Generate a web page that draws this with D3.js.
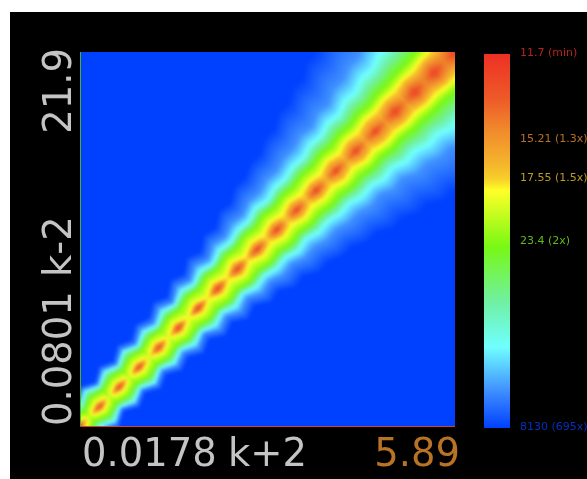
<!DOCTYPE html>
<html>
<head>
<meta charset="utf-8">
<script src="https://cdnjs.cloudflare.com/ajax/libs/d3/7.8.5/d3.min.js"></script>
<style>
  html, body { margin: 0; padding: 0; background: #fff; overflow: hidden; }
  #chart { position: relative; width: 587px; height: 479px; }
  #chart canvas, #chart svg { position: absolute; }
  text { font-family: "DejaVu Sans", sans-serif; }
</style>
</head>
<body>
<div id="chart"></div>
<script>
// k+2 at every peak and saddle along the ridge
var ridgeK = [0.0178, 0.0207, 0.0241, 0.0281, 0.0327, 0.0381, 0.0444, 0.0517, 0.0602, 0.0701,
  0.0816, 0.0951, 0.111, 0.129, 0.150, 0.175, 0.204, 0.237, 0.276, 0.322,
  0.374, 0.436, 0.508, 0.591, 0.689, 0.802, 0.934, 1.09, 1.27, 1.47,
  1.72, 2.00, 2.33, 2.71, 3.16, 3.68, 4.28, 4.99, 5.81];

// colour bar fraction on the ridge itself
var ridgeLevel = [0.10, 0.45, 0.05, 0.45, 0.03, 0.44, 0.03, 0.42, 0.03, 0.42,
  0.03, 0.40, 0.03, 0.38, 0.03, 0.36, 0.03, 0.34, 0.03, 0.33,
  0.03, 0.32, 0.03, 0.30, 0.04, 0.28, 0.04, 0.26, 0.05, 0.24,
  0.05, 0.22, 0.05, 0.21, 0.05, 0.20, 0.05, 0.19, 0.06];

// half width of the ridge at each contour, hundredths of a decade
var orangeWidth = [1.5, 0, 2, 0, 2, 0, 2, 0, 2, 0, 2.5, 0, 2.5, 0, 3, 0, 3, 0, 3, 0, 3.5, 0, 3.5, 0, 4, 0, 4, 0, 5, 1, 5, 2, 7, 3, 8, 4, 9, 5, 10];
var yellowWidth = [5, 0, 5, 0, 5, 0, 5, 0, 6, 0, 6, 0, 6, 1, 7, 2, 8, 3, 8, 5, 9, 6, 10, 7, 10, 8, 12, 9, 13, 11, 14, 13, 15, 14, 16, 15, 17, 17, 18];
var greenWidth = [10, 7, 12, 9, 12, 9, 13, 10, 13, 11, 14, 12, 15, 13, 16, 14, 17, 15, 18, 16, 19, 17, 19, 18, 20, 19, 21, 20, 22, 21, 23, 22, 24, 24, 25, 25, 26, 26, 27];
var cyanWidth = [18, 13, 20, 14, 20, 15, 21, 15, 21, 16, 22, 18, 23, 19, 24, 20, 25, 23, 26, 25, 29, 26, 30, 29, 32, 31, 35, 34, 38, 36, 41, 40, 45, 44, 49, 49, 52, 54, 56];
var skyWidth = [20, 15, 23, 16, 23, 17, 24, 18, 25, 20, 27, 21, 29, 24, 31, 26, 33, 30, 35, 33, 38, 37, 41, 40, 44, 44, 48, 46, 52, 50, 57, 57, 62, 62, 69, 69, 76, 77, 83];
var blueWidth = [24, 18, 27, 20, 28, 22, 30, 24, 32, 27, 35, 29, 38, 33, 42, 37, 46, 43, 52, 50, 58, 57, 63, 63, 70, 70, 78, 78, 85, 85, 94, 94, 103, 106, 115, 118, 127, 133, 140];

var contourLevels = [0.2, 0.36, 0.516, 0.783, 0.9, 1];
var contourWidths = [orangeWidth, yellowWidth, greenWidth, cyanWidth, skyWidth, blueWidth];

// colour bar
var barLevels = [0, 0.12, 0.2, 0.3, 0.335, 0.365, 0.516, 0.66, 0.783, 0.9, 1];
var barColors = ["#ee3025", "#ee5a28", "#f0882c", "#f5b82c", "#f8d02a", "#ffff28", "#78f814", "#70f0a0", "#70ffff", "#4090ff", "#0040ff"];
var legendValues = [11.7, 15.21, 17.55, 23.4, 8130];
var legendLabels = ["11.7 (min)", "15.21 (1.3x)", "17.55 (1.5x)", "23.4 (2x)", "8130 (695x)"];
var legendLevels = [0, 0.231, 0.333, 0.503, 1];

var xDomain = [0.0178, 5.89];
var yDomain = [0.0801, 21.9];

var plot = { left: 80, right: 455, top: 52, bottom: 426 };
var decades = Math.log10(xDomain[1] / xDomain[0]);

var xScale = d3.scaleLog().domain(xDomain).range([plot.left, plot.right]);
var yScale = d3.scaleLog().domain(yDomain).range([plot.bottom, plot.top]);
var colorScale = d3.scaleLinear().domain(barLevels).range(barColors).clamp(true);
var legendScale = d3.scaleLinear().domain(legendValues).range(legendLevels);
var barScale = d3.scaleLinear().domain([0, 1]).range([54, 428]);

// ridge position runs along x; each station is looked up on that same scale
var stationScale = d3.scaleLinear()
  .domain(ridgeK.map(function(k) { return xScale(k); }))
  .range(d3.range(ridgeK.length))
  .clamp(true);

function levelAt(px, py) {
  var tx = (px - plot.left) / (plot.right - plot.left);
  var ty = (plot.bottom - py) / (plot.bottom - plot.top);
  var along = plot.left + (tx + ty) / 2 * (plot.right - plot.left);
  var across = Math.abs(ty - tx) * decades * 100;

  var s = stationScale(along);
  var i0 = Math.min(Math.floor(s), ridgeK.length - 2);
  var f = s - i0;
  var lerp = function(arr) { return arr[i0] * (1 - f) + arr[i0 + 1] * f; };

  var lastW = 0, lastL = lerp(ridgeLevel);
  for (var j = 0; j < contourLevels.length; j++) {
    if (contourLevels[j] <= lastL) continue;
    var w = lerp(contourWidths[j]);
    if (across <= w) {
      return lastL + (contourLevels[j] - lastL) * (across - lastW) / Math.max(w - lastW, 1e-6);
    }
    lastW = w;
    lastL = contourLevels[j];
  }
  return 1;
}

var root = d3.select("#chart");

var back = root.append("svg")
  .attr("width", 587)
  .attr("height", 479)
  .style("left", "0px")
  .style("top", "0px");

back.append("rect")
  .attr("x", 10).attr("y", 12)
  .attr("width", 577).attr("height", 467)
  .attr("fill", "#000");

// heat map, drawn in cells then softened a little
var canvas = root.append("canvas")
  .attr("width", plot.right - plot.left)
  .attr("height", plot.bottom - plot.top)
  .style("left", plot.left + "px")
  .style("top", plot.top + "px");
var ctx = canvas.node().getContext("2d");
var cell = 2;
for (var cx = plot.left; cx < plot.right; cx += cell) {
  for (var cy = plot.top; cy < plot.bottom; cy += cell) {
    ctx.fillStyle = colorScale(levelAt(cx + cell / 2, cy + cell / 2));
    ctx.fillRect(cx - plot.left, cy - plot.top, cell, cell);
  }
}
ctx.filter = "blur(1.5px)";
ctx.drawImage(canvas.node(), 0, 0);
ctx.filter = "none";

var front = root.append("svg")
  .attr("width", 587)
  .attr("height", 479)
  .style("left", "0px")
  .style("top", "0px");

front.append("line")
  .attr("x1", plot.left + 0.5).attr("x2", plot.left + 0.5)
  .attr("y1", plot.top).attr("y2", plot.bottom)
  .attr("stroke", "#4caf30");
front.append("line")
  .attr("x1", plot.left).attr("x2", plot.right)
  .attr("y1", plot.bottom + 0.5).attr("y2", plot.bottom + 0.5)
  .attr("stroke", "#d84030");

// axis labels
var labelGrey = "#c4c4c4";
var labelSize = "38.5px";
front.append("text")
  .attr("x", xScale(xDomain[0]) + 2)
  .attr("y", 466)
  .style("font-size", labelSize)
  .style("fill", labelGrey)
  .text("0.0178");
front.append("text")
  .attr("x", 228)
  .attr("y", 466)
  .style("font-size", labelSize)
  .style("fill", labelGrey)
  .text("k+2");
front.append("text")
  .attr("x", xScale(xDomain[1]) + 5)
  .attr("y", 466)
  .style("font-size", labelSize)
  .style("fill", "#b87325")
  .style("text-anchor", "end")
  .text("5.89");

front.append("text")
  .attr("transform", "translate(71," + yScale(yDomain[0]) + ") rotate(-90)")
  .style("font-size", labelSize)
  .style("fill", labelGrey)
  .text("0.0801");
front.append("text")
  .attr("transform", "translate(71,277) rotate(-90)")
  .style("font-size", labelSize)
  .style("fill", labelGrey)
  .text("k-2");
front.append("text")
  .attr("transform", "translate(71," + (yScale(yDomain[1]) - 4) + ") rotate(-90)")
  .style("font-size", labelSize)
  .style("fill", labelGrey)
  .style("text-anchor", "end")
  .text("21.9");

// colour bar
var defs = front.append("defs");
var gradient = defs.append("linearGradient")
  .attr("id", "bar")
  .attr("x1", 0).attr("x2", 0)
  .attr("y1", 0).attr("y2", 1);
gradient.selectAll("stop")
  .data(barLevels)
  .enter().append("stop")
  .attr("offset", function(d) { return d; })
  .attr("stop-color", function(d) { return colorScale(d); });

front.append("rect")
  .attr("x", 484)
  .attr("y", barScale(0))
  .attr("width", 26)
  .attr("height", barScale(1) - barScale(0))
  .attr("fill", "url(#bar)");

front.selectAll(".legend")
  .data(legendValues)
  .enter().append("text")
  .attr("class", "legend")
  .attr("x", 520)
  .attr("y", function(d) { return barScale(legendScale(d)) + 2; })
  .style("font-size", "11px")
  .style("fill", function(d) { return d3.color(colorScale(legendScale(d))).darker(0.8); })
  .text(function(d, i) { return legendLabels[i]; });
</script>
</body>
</html>
